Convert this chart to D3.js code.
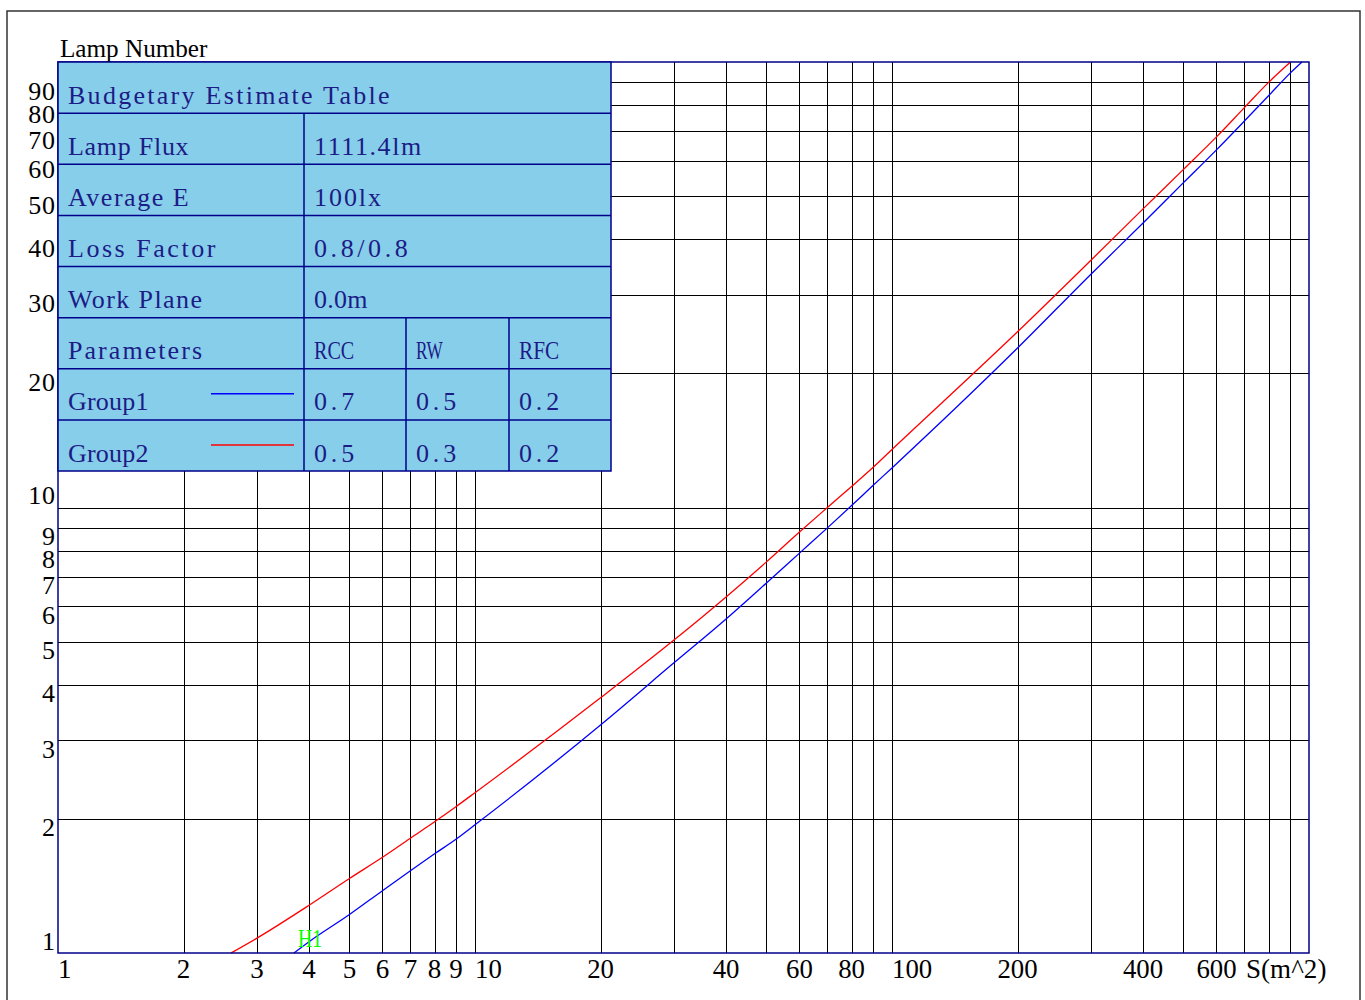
<!DOCTYPE html>
<meta charset="utf-8">
<script src="https://d3js.org/d3.v7.min.js"></script>
<style>
  body { margin: 0; background: #fff; }
  text { font-family: "Liberation Serif", "DejaVu Serif", serif; }
</style>
<div id="chart"></div>
<script>

// grid values (log axes)
var xGrid = [2, 3, 4, 5, 6, 7, 8, 9, 10, 20, 30, 40, 50, 60, 70, 80, 90,
             100, 200, 300, 400, 500, 600, 700, 800, 900];
var yGrid = [2, 3, 4, 5, 6, 7, 8, 9, 10, 20, 30, 40, 50, 60, 70, 80, 90];

// tick labels
var xLabels = [1, 2, 3, 4, 5, 6, 7, 8, 9, 10, 20, 40, 60, 80, 100, 200, 400, 600];
var yLabels = [1, 2, 3, 4, 5, 6, 7, 8, 9, 10, 20, 30, 40, 50, 60, 70, 80, 90];

// curves: [area m^2, lamp number]
var group1 = [[3.68, 1], [4, 1.06], [5, 1.22], [6, 1.38], [7, 1.53], [8, 1.67], [9, 1.8],
  [10, 1.94], [20, 3.25], [30, 4.48], [40, 5.62], [50, 6.77], [60, 7.9], [70, 9.0],
  [80, 10.1], [90, 11.2], [100, 12.27], [200, 22.8], [300, 33.4], [400, 43.5],
  [500, 53.6], [600, 63.5], [700, 73.7], [800, 84.0], [900, 94.3], [962, 100]];
var group2 = [[2.6, 1], [3, 1.08], [4, 1.28], [5, 1.47], [6, 1.64], [7, 1.81], [8, 1.97],
  [9, 2.13], [10, 2.29], [20, 3.74], [30, 5.04], [40, 6.3], [50, 7.55], [60, 8.81],
  [70, 10.0], [80, 11.15], [90, 12.3], [100, 13.5], [200, 24.8], [300, 35.9],
  [400, 46.8], [500, 57.4], [600, 67.9], [700, 79.0], [800, 90.0], [903, 100]];

// table contents
var tableTitle = "Budgetary Estimate Table";
var infoRows = [["Lamp Flux", "1111.4lm"], ["Average E", "100lx"],
                ["Loss Factor", "0.8/0.8"], ["Work Plane", "0.0m"]];
var paramHead = ["Parameters", "RCC", "RW", "RFC"];
var groups = [["Group1", "0.7", "0.5", "0.2"], ["Group2", "0.5", "0.3", "0.2"]];
var groupColors = ["#0000ff", "#ff0000"];

var W = 1365, H = 1000;
var pl = 58, pr = 1309, pt = 62, pb = 953;
var charW = 13.4;

var svg = d3.select("#chart").append("svg")
    .attr("width", W)
    .attr("height", H);

// outer frame
svg.append("rect")
    .attr("x", 7).attr("y", 11)
    .attr("width", 1353).attr("height", 1000)
    .attr("fill", "none")
    .attr("stroke", "#333")
    .attr("stroke-width", 1.5);

var x = d3.scaleLog().domain([1, 1000]).range([pl, pr]);
var y = d3.scaleLog().domain([1, 100]).range([pb, pt]);

// monospaced-looking text: each char gets charW of room
function mono(sel, s) {
  sel.text(s);
  if (s.length > 1) {
    var target = s.length * charW;
    var natural = sel.node().getComputedTextLength();
    sel.attr("textLength", target)
       .attr("lengthAdjust", natural > target ? "spacingAndGlyphs" : "spacing");
  }
  return sel;
}

// grid
svg.append("g").selectAll("line")
    .data(xGrid)
  .enter().append("line")
    .attr("x1", function(d) { return Math.round(x(d)) + 0.5; })
    .attr("x2", function(d) { return Math.round(x(d)) + 0.5; })
    .attr("y1", pt).attr("y2", pb)
    .attr("stroke", "#000")
    .attr("stroke-width", 1);

svg.append("g").selectAll("line")
    .data(yGrid)
  .enter().append("line")
    .attr("y1", function(d) { return Math.round(y(d)) + 0.5; })
    .attr("y2", function(d) { return Math.round(y(d)) + 0.5; })
    .attr("x1", pl).attr("x2", pr)
    .attr("stroke", "#000")
    .attr("stroke-width", 1);

// curves
var line = d3.line()
    .x(function(d) { return x(d[0]); })
    .y(function(d) { return y(d[1]); })
    .curve(d3.curveMonotoneX);

[group1, group2].forEach(function(g, i) {
  svg.append("path")
      .datum(g)
      .attr("d", line)
      .attr("fill", "none")
      .attr("stroke", groupColors[i])
      .attr("stroke-width", 1.3);
});

// plot border
svg.append("rect")
    .attr("x", pl).attr("y", pt)
    .attr("width", pr - pl).attr("height", pb - pt)
    .attr("fill", "none")
    .attr("stroke", "#00008b")
    .attr("stroke-width", 1.5);

// H1 marker
mono(svg.append("text")
    .attr("x", 298).attr("y", 947)
    .attr("font-size", 26)
    .attr("fill", "#00ff00"), "H1")
    .attr("textLength", 24);

// x labels
svg.append("g").selectAll("text")
    .data(xLabels)
  .enter().append("text")
    .attr("x", function(d) { return x(d); })
    .attr("y", 978)
    .attr("font-size", 27)
    .attr("fill", "#000")
    .attr("text-anchor", function(d) { return (Math.log10(d) % 1 === 0) ? "start" : "middle"; })
    .each(function(d) { mono(d3.select(this), String(d)); });

mono(svg.append("text")
    .attr("x", 1246).attr("y", 978)
    .attr("font-size", 27), "S(m^2)");

// y labels
svg.append("g").selectAll("text")
    .data(yLabels)
  .enter().append("text")
    .attr("x", 55)
    .attr("y", function(d) {
      return (Math.log10(d) % 1 === 0) ? y(d) - 3.5 : y(d) + 17.5;
    })
    .attr("font-size", 26)
    .attr("fill", "#000")
    .attr("text-anchor", "end")
    .each(function(d) { mono(d3.select(this), String(d)); });

mono(svg.append("text")
    .attr("x", 60).attr("y", 57)
    .attr("font-size", 26), "Lamp Number");

// budget table
var rowH = (471 - pt) / 8;
var tx = pl, tw = 611 - pl;
var col2 = 304, col3 = 406, col4 = 509;
var border = "#00008b", ink = "#1c1c86";
var table = svg.append("g");

table.append("rect")
    .attr("x", tx).attr("y", pt)
    .attr("width", tw).attr("height", rowH * 8)
    .attr("fill", "#87ceeb")
    .attr("stroke", border)
    .attr("stroke-width", 1.5);

d3.range(1, 8).forEach(function(i) {
  table.append("line")
      .attr("x1", tx).attr("x2", tx + tw)
      .attr("y1", pt + i * rowH).attr("y2", pt + i * rowH)
      .attr("stroke", border).attr("stroke-width", 1.5);
});
table.append("line")
    .attr("x1", col2).attr("x2", col2)
    .attr("y1", pt + rowH).attr("y2", pt + 8 * rowH)
    .attr("stroke", border).attr("stroke-width", 1.5);
[col3, col4].forEach(function(c) {
  table.append("line")
      .attr("x1", c).attr("x2", c)
      .attr("y1", pt + 5 * rowH).attr("y2", pt + 8 * rowH)
      .attr("stroke", border).attr("stroke-width", 1.5);
});

function cell(col, row, s) {
  mono(table.append("text")
      .attr("x", col + 10)
      .attr("y", pt + (row + 1) * rowH - 9.5)
      .attr("font-size", 26)
      .attr("fill", ink), s);
}

cell(tx, 0, tableTitle);
infoRows.forEach(function(r, i) {
  cell(tx, i + 1, r[0]);
  cell(col2, i + 1, r[1]);
});
[tx, col2, col3, col4].forEach(function(c, j) { cell(c, 5, paramHead[j]); });
groups.forEach(function(g, i) {
  [tx, col2, col3, col4].forEach(function(c, j) { cell(c, 6 + i, g[j]); });
  var ly = pt + (6 + i) * rowH + 25;
  table.append("line")
      .attr("x1", 211).attr("x2", 294)
      .attr("y1", ly).attr("y2", ly)
      .attr("stroke", groupColors[i])
      .attr("stroke-width", 1.5);
});

</script>
